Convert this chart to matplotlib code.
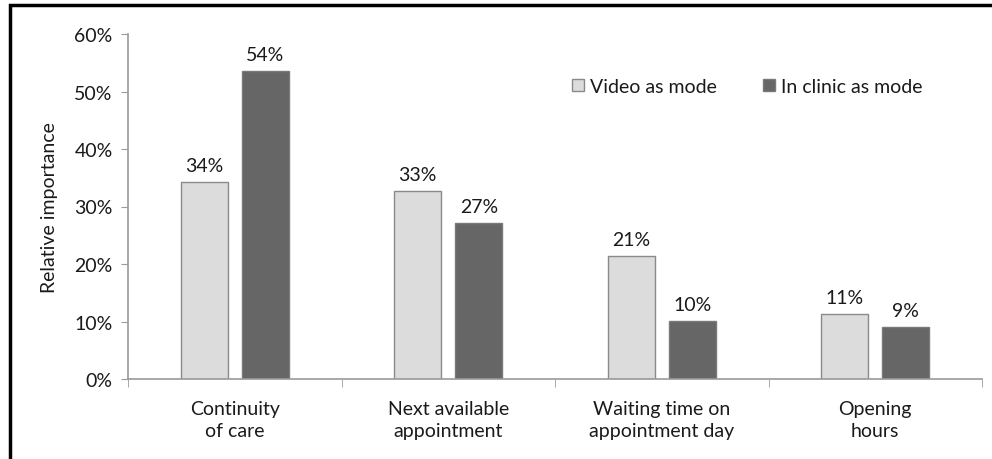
import numpy as np
import matplotlib.pyplot as plt
from matplotlib.patches import Rectangle

categories = ['Continuity\nof care', 'Next available\nappointment',
              'Waiting time on\nappointment day', 'Opening\nhours']
video = [0.343, 0.327, 0.214, 0.113]
clinic = [0.536, 0.271, 0.101, 0.090]
video_labels = ['34%', '33%', '21%', '11%']
clinic_labels = ['54%', '27%', '10%', '9%']

plt.rcParams['font.family'] = ['Lato', 'DejaVu Sans']
txt = '#1a1a1a'
axis_col = '#9a9a9a'
fs = 14

W, H = 992, 460
fig = plt.figure(figsize=(W / 100, H / 100), dpi=100)
ax = fig.add_axes([128 / W, 1 - 380 / H, (982 - 128) / W, (380 - 35) / H])

x = np.arange(len(categories))
w = 0.22
off = 0.143
ax.bar(x - off, video, w, color='#dcdcdc', edgecolor='#8a8a8a', linewidth=1,
       label='Video as mode', zorder=2)
ax.bar(x + off, clinic, w, color='#666666', edgecolor='#7a7a7a', linewidth=1,
       label='In clinic as mode', zorder=2)

for i in range(len(categories)):
    ax.text(x[i] - off, video[i] + 0.014, video_labels[i], ha='center', va='bottom',
            fontsize=fs, color=txt)
    ax.text(x[i] + off, clinic[i] + 0.014, clinic_labels[i], ha='center', va='bottom',
            fontsize=fs, color=txt)

ax.set_xlim(-0.5, len(categories) - 0.5)
ax.set_ylim(0, 0.6)
ax.set_yticks(np.arange(0, 0.61, 0.1))
ax.set_yticklabels([f'{int(round(v * 100))}%' for v in np.arange(0, 0.61, 0.1)],
                   fontsize=fs, color=txt)
ax.set_xticks(x)
ax.set_xticklabels(categories, fontsize=fs, color=txt, linespacing=1.4)
ax.tick_params(axis='x', length=0, pad=15)
ax.set_xticks(np.arange(-0.5, len(categories), 1), minor=True)
ax.tick_params(axis='x', which='minor', length=6, color=axis_col, direction='out')
ax.tick_params(axis='y', length=5, color=axis_col, pad=6)

for s in ['top', 'right']:
    ax.spines[s].set_visible(False)
for s in ['left', 'bottom']:
    ax.spines[s].set_color(axis_col)
    ax.spines[s].set_linewidth(1.2)

ax.set_ylabel('Relative importance', fontsize=fs, color=txt, labelpad=12)

leg = ax.legend(loc='center right', bbox_to_anchor=(0.93, 0.849), ncol=2, frameon=False,
                fontsize=fs, handlelength=0.6, handleheight=0.6, handletextpad=0.3,
                columnspacing=2.4, borderaxespad=0, borderpad=0)
for t in leg.get_texts():
    t.set_color(txt)

# figure border (top and left visible, the rest cropped off)
fig.patches.append(Rectangle((10 / W, -0.1), 1.2, 1 - 6 / H + 0.1, transform=fig.transFigure,
                             fill=False, edgecolor='black', linewidth=2.5))

fig.savefig('out.png', dpi=100, facecolor='white')
